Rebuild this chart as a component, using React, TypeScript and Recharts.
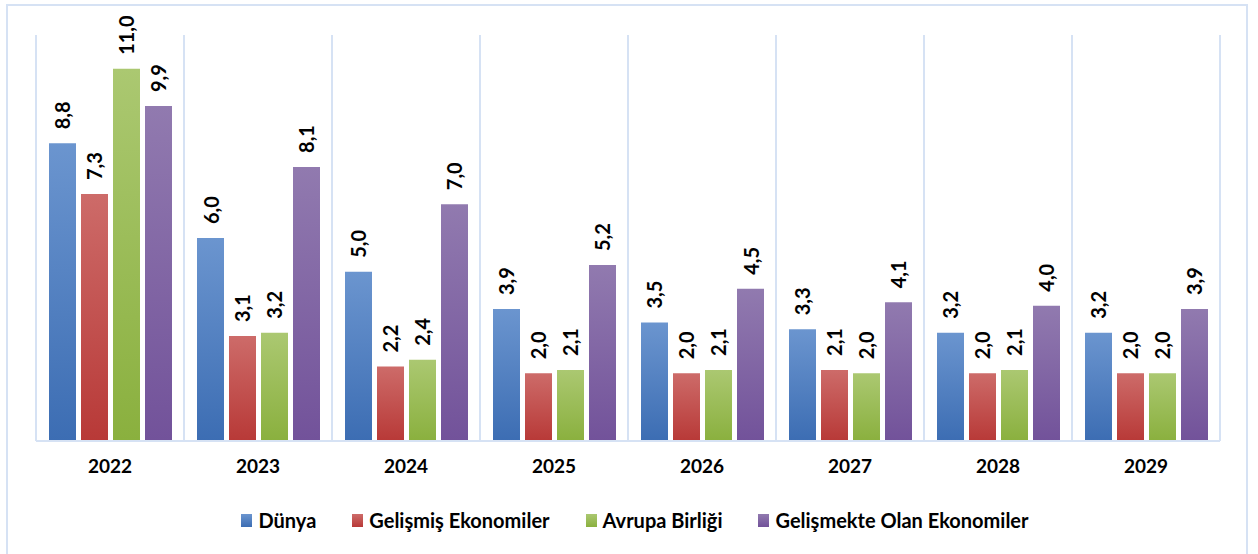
import { BarChart, Bar, XAxis, YAxis, CartesianGrid, LabelList, Legend } from 'recharts'

const years = ['2022', '2023', '2024', '2025', '2026', '2027', '2028', '2029']
const dunya = [8.8, 6.0, 5.0, 3.9, 3.5, 3.3, 3.2, 3.2]
const gelismis = [7.3, 3.1, 2.2, 2.0, 2.0, 2.1, 2.0, 2.0]
const avrupa = [11.0, 3.2, 2.4, 2.1, 2.1, 2.0, 2.1, 2.0]
const gelismekte = [9.9, 8.1, 7.0, 5.2, 4.5, 4.1, 4.0, 3.9]

const data = years.map((year, i) => ({
  year,
  dunya: dunya[i],
  gelismis: gelismis[i],
  avrupa: avrupa[i],
  gelismekte: gelismekte[i],
}))

const FONT = 'Lato, "Open Sans", sans-serif'
const GRID = '#d6e2f4'

const series = [
  { key: 'dunya', name: 'Dünya', top: '#6b95cf', bottom: '#3c6db3' },
  { key: 'gelismis', name: 'Gelişmiş Ekonomiler', top: '#cd6b69', bottom: '#b83937' },
  { key: 'avrupa', name: 'Avrupa Birliği', top: '#abc871', bottom: '#8ab03e' },
  { key: 'gelismekte', name: 'Gelişmekte Olan Ekonomiler', top: '#917aaf', bottom: '#72529a' },
]

const fmt = (v: number) => v.toFixed(1).replace('.', ',')

function VLabel(props: any) {
  const { x, y, width, value } = props
  const cx = x + width / 2
  const cy = y - 14
  return (
    <text
      x={cx}
      y={cy}
      transform={`rotate(-90 ${cx} ${cy})`}
      textAnchor="start"
      dominantBaseline="central"
      fontFamily={FONT}
      fontWeight={700}
      fontSize={20}
      fill="#000"
    >
      {fmt(value)}
    </text>
  )
}

function LegendContent() {
  return (
    <div style={{ display: 'flex', justifyContent: 'center', gap: 36, fontFamily: FONT, fontWeight: 700, fontSize: 20, paddingLeft: 14 }}>
      {series.map(s => (
        <div key={s.key} style={{ display: 'flex', alignItems: 'center', gap: 6 }}>
          <span style={{ width: 11, height: 13, background: `linear-gradient(${s.top}, ${s.bottom})`, display: 'inline-block' }} />
          <span style={{ color: '#000' }}>{s.name}</span>
        </div>
      ))}
    </div>
  )
}

export default function App() {
  return (
    <div style={{ position: 'absolute', left: 0, top: 0, width: 1258, height: 554, background: '#fff', overflow: 'hidden' }}>
      <div style={{ position: 'absolute', left: 6, top: 4, width: 1242, height: 560, border: `2px solid ${GRID}`, boxSizing: 'border-box' }} />
      <div style={{ position: 'absolute', left: 0, top: 0 }}>
        <BarChart
          width={1258}
          height={554}
          data={data}
          margin={{ top: 35, right: 38, left: 36, bottom: 59 }}
          barSize={27}
          barGap={5}
        >
          <defs>
            {series.map(s => (
              <linearGradient key={s.key} id={`g-${s.key}`} x1="0" y1="0" x2="0" y2="1">
                <stop offset="0%" stopColor={s.top} />
                <stop offset="100%" stopColor={s.bottom} />
              </linearGradient>
            ))}
          </defs>
          <CartesianGrid
            horizontal={false}
            stroke={GRID}
            strokeWidth={2}
            verticalCoordinatesGenerator={({ offset }: any) =>
              years.map((_, i) => offset.left + (i * offset.width) / years.length).concat(offset.left + offset.width)
            }
          />
          <XAxis
            dataKey="year"
            axisLine={{ stroke: GRID, strokeWidth: 2 }}
            tickLine={false}
            tickSize={0}
            tickMargin={19}
            tick={{ fontFamily: FONT, fontWeight: 700, fontSize: 19, fill: '#000' }}
          />
          <YAxis hide domain={[0, 12]} />
          <Legend verticalAlign="bottom" wrapperStyle={{ bottom: 22 }} content={<LegendContent />} />
          {series.map(s => (
            <Bar key={s.key} dataKey={s.key} name={s.name} fill={`url(#g-${s.key})`} isAnimationActive={false}>
              <LabelList dataKey={s.key} content={<VLabel />} />
            </Bar>
          ))}
        </BarChart>
      </div>
    </div>
  )
}
